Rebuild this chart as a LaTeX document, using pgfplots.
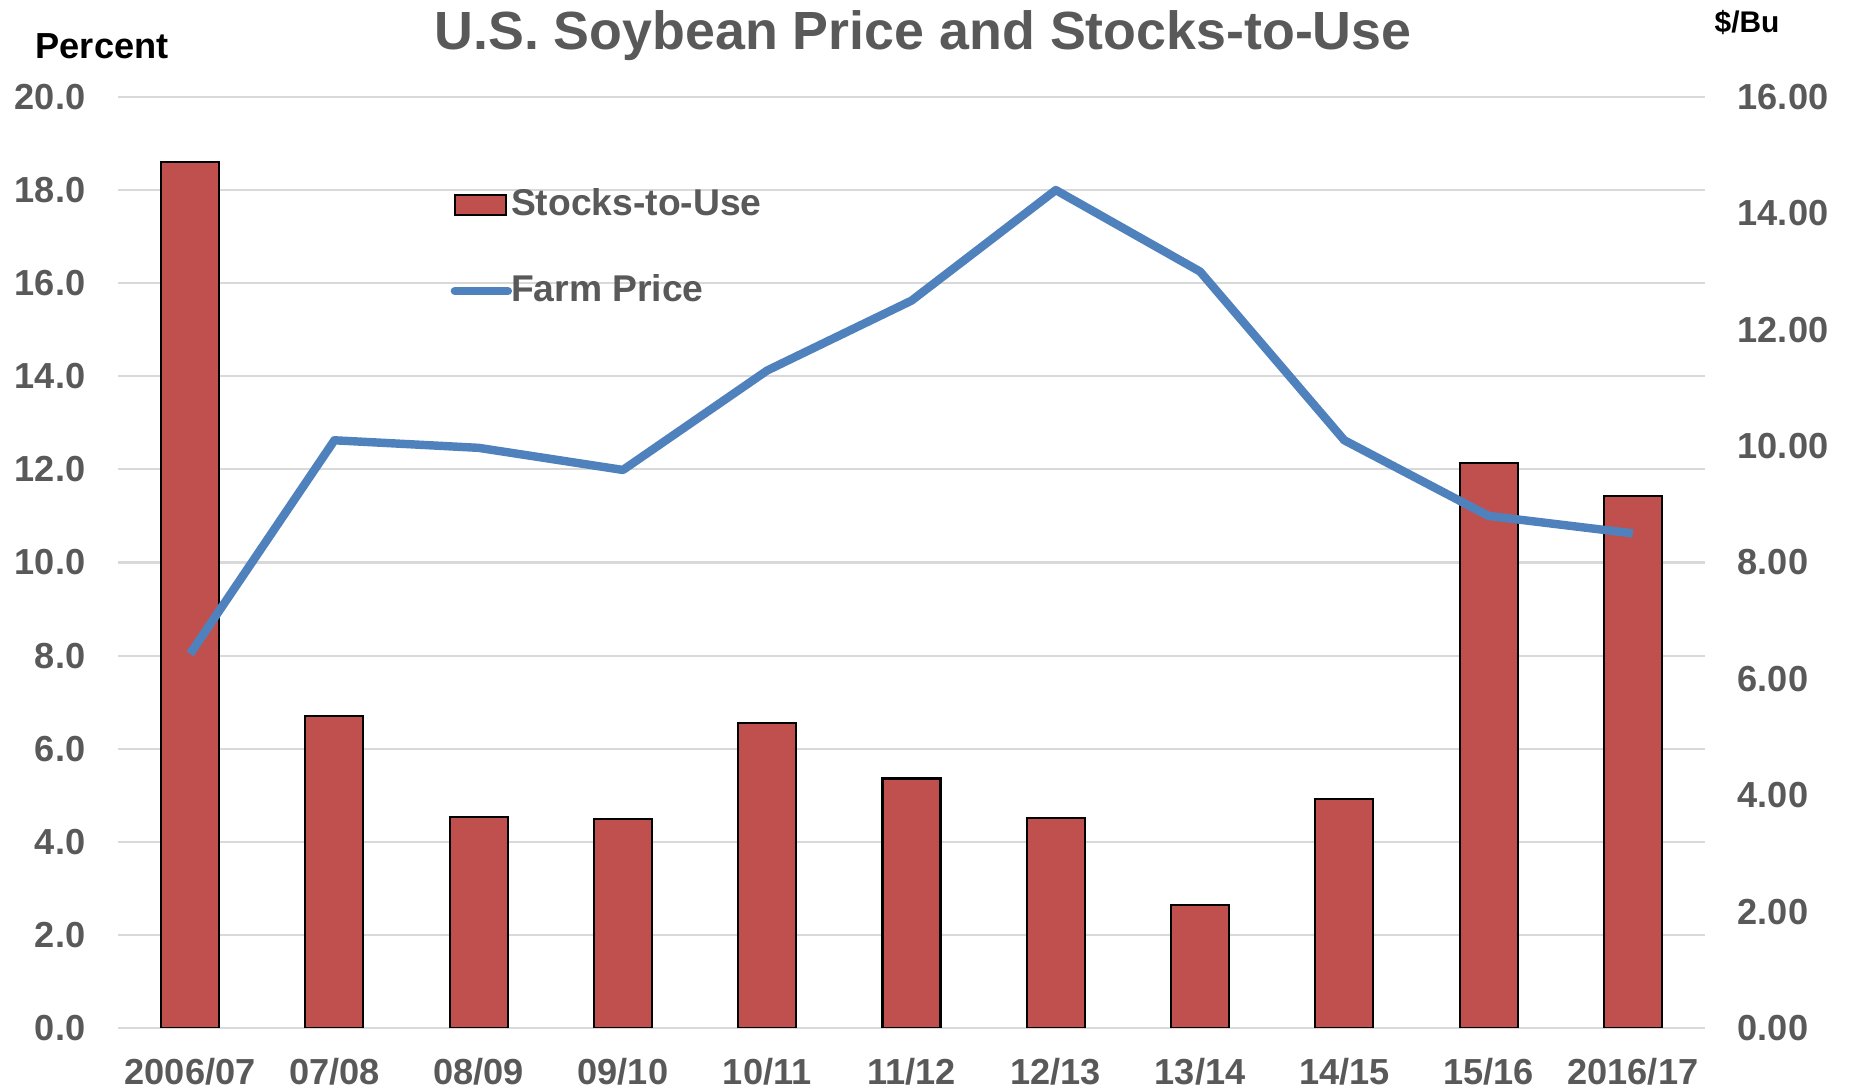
\documentclass[border=0pt]{standalone}
\usepackage{fontspec}
\setmainfont{Liberation Sans}
\usepackage{pgfplots}
\pgfplotsset{compat=1.18}
\definecolor{barred}{HTML}{C0504D}
\definecolor{lineblue}{HTML}{4F81BD}
\definecolor{txtgray}{HTML}{595959}
\definecolor{gridgray}{HTML}{D9D9D9}
\pgfplotsset{
 basestyle/.style={
   at={(11.8mm,6.1mm)},anchor=south west,
   scale only axis,width=158.7mm,height=93.1mm,
   xmin=-0.5,xmax=10.5,
   axis line style={draw=none},
   major tick length=0pt,
   /pgf/number format/assume math mode=true,
   ticklabel style={font=\bfseries\fontsize{10.3}{12}\selectfont,text=txtgray,inner sep=0pt}
 },
 % images drawn as overlay, box kept shorter so the text sits close to them
 barlegend/.style={legend image code/.code={%
   \draw[##1,overlay] (-0.6mm,-1mm) rectangle (4.5mm,1mm);
   \path[draw=none,fill=none] (0mm,-1mm) rectangle (4.5mm,1mm);}},
 linelegend/.style={legend image code/.code={%
   \draw[##1,line cap=round,overlay] (-0.6mm,0mm) -- (4.7mm,0mm);
   \path[draw=none,fill=none] (0mm,-1mm) rectangle (4.5mm,1mm);}}
}
\begin{document}
\begin{tikzpicture}
\useasboundingbox (0,0) rectangle (185.3mm,108.9mm);
\begin{axis}[basestyle,
 ymin=0,ymax=20,ytick={0,2,...,20},
 xtick={0,...,10},
 xticklabels={2006/07,07/08,08/09,09/10,10/11,11/12,12/13,13/14,14/15,15/16,2016/17},
 xticklabel style={yshift=-3mm},
 yticklabel style={xshift=-3.2mm,/pgf/number format/.cd,fixed,fixed zerofill,precision=1},
 ymajorgrids,major grid style={draw=gridgray,line width=0.6pt},
 legend style={at={(0.2156,0.908)},anchor=north west,draw=none,fill=none,
   font=\bfseries\fontsize{10.6}{12}\selectfont,text=txtgray,row sep=4.35mm,
   inner sep=0pt,nodes={inner sep=0.15em}},
 legend cell align=left
]
\addplot[ybar,bar width=5.8mm,fill=barred,draw=black,line width=0.6pt,barlegend]
 coordinates {(0,18.6) (1,6.7) (2,4.54) (3,4.49) (4,6.55) (5,5.36) (6,4.52) (7,2.64) (8,4.92) (9,12.13) (10,11.42)};
\addlegendentry{Stocks-to-Use}
\addlegendimage{lineblue,line width=2.4pt,linelegend}
\addlegendentry{Farm Price}
\end{axis}
\begin{axis}[basestyle,
 hide x axis,axis y line*=right,
 ymin=0,ymax=16,ytick={0,2,...,16},
 yticklabel style={anchor=west,xshift=3.2mm,/pgf/number format/.cd,fixed,fixed zerofill,precision=2}
]
\addplot[lineblue,line width=2.4pt,line join=round]
 coordinates {(0,6.43) (1,10.10) (2,9.97) (3,9.59) (4,11.30) (5,12.50) (6,14.40) (7,13.00) (8,10.10) (9,8.80) (10,8.50)};
\end{axis}
\node[anchor=base,font=\bfseries\fontsize{15.3}{18}\selectfont,text=txtgray] at (92.3mm,103.9mm) {U.S. Soybean Price and Stocks-to-Use};
\node[anchor=base west,inner sep=0pt,font=\bfseries\fontsize{10.3}{12}\selectfont] at (3.5mm,103.0mm) {Percent};
\node[anchor=base west,inner sep=0pt,font=\bfseries\fontsize{8.5}{10}\selectfont] at (171.4mm,105.6mm) {\$/Bu};
\end{tikzpicture}
\end{document}
